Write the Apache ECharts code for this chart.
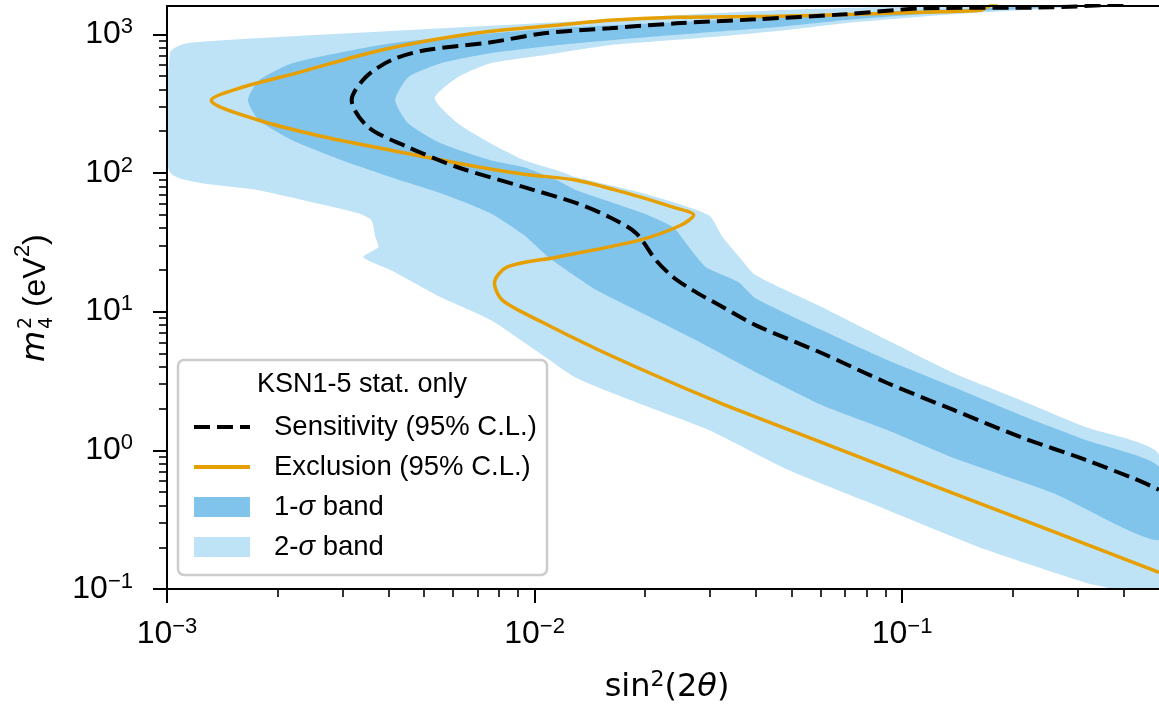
<!DOCTYPE html>
<html><head><meta charset="utf-8">
<script src="https://cdn.jsdelivr.net/npm/echarts@6/dist/echarts.min.js"></script>
<style>html,body{margin:0;padding:0;background:#fff;}#c{width:1159px;height:708px;}</style>
</head><body><div id="c"></div>
<script>
// ---------- tick values ----------
const xMajorTicks = [0.001, 0.01, 0.1];
const xMinorTicks = [0.002, 0.003, 0.004, 0.005, 0.006, 0.007, 0.008, 0.009,
                     0.02, 0.03, 0.04, 0.05, 0.06, 0.07, 0.08, 0.09,
                     0.2, 0.3, 0.4];
const yMajorTicks = [0.1, 1, 10, 100, 1000];
const yMinorTicks = [0.2, 0.3, 0.4, 0.5, 0.6, 0.7, 0.8, 0.9,
                     2, 3, 4, 5, 6, 7, 8, 9,
                     20, 30, 40, 50, 60, 70, 80, 90,
                     200, 300, 400, 500, 600, 700, 800, 900];

// ---------- series values [sin^2(2theta), m4^2] ----------
const sensitivity = [
  [0.40, 1650], [0.257, 1565], [0.1146, 1539], [0.0697, 1393], [0.0399, 1282],
  [0.0243, 1200], [0.0160, 1105], [0.0106, 1017], [0.00759, 875], [0.00503, 767],
  [0.00407, 650], [0.00347, 490], [0.00318, 335], [0.00353, 214], [0.00453, 153.5],
  [0.00618, 110], [0.00937, 79], [0.0130, 60.6], [0.0160, 48], [0.0189, 36.8],
  [0.0214, 23.5], [0.0238, 17.8], [0.0269, 14.3], [0.0325, 10.8], [0.0399, 8.0],
  [0.0604, 5.03], [0.0911, 3.06], [0.138, 1.955], [0.2096, 1.249], [0.3157, 0.853],
  [0.4308, 0.62], [0.5, 0.52]
];
const exclusion = [
  [0.1885, 1758], [0.1696, 1565], [0.1633, 1489], [0.1125, 1441], [0.0742, 1393],
  [0.0451, 1348], [0.0243, 1326], [0.0160, 1262], [0.0115, 1161], [0.00759, 1051],
  [0.00503, 890], [0.00353, 730], [0.00229, 532], [0.00157, 408], [0.00132, 335],
  [0.00178, 240], [0.0027, 181], [0.00407, 146], [0.00618, 117.7], [0.00937, 98],
  [0.0130, 88.7], [0.01745, 72.7], [0.0238, 56.7], [0.0271, 49.7], [0.0250, 42],
  [0.0193, 32.8], [0.0115, 24.7], [0.00843, 21], [0.00778, 16.1], [0.00817, 12.1],
  [0.01047, 8.42], [0.01475, 5.38], [0.0214, 3.45], [0.0311, 2.26], [0.0399, 1.74],
  [0.0604, 1.14], [0.0911, 0.748], [0.138, 0.490], [0.2572, 0.260], [0.5, 0.132]
];
const band1 = [
  [0.5, 0.226], [0.2572, 0.493], [0.138, 0.882], [0.0911, 1.40], [0.0604, 2.12],
  [0.0399, 3.67], [0.02745, 6.24], [0.0201, 9.45], [0.01475, 14.3], [0.0110, 24.3],
  [0.00937, 35.6], [0.00759, 51.3], [0.00556, 71.5], [0.00407, 93.3], [0.00299, 123.7],
  [0.00219, 172.3], [0.00178, 240], [0.00166, 335], [0.00178, 466], [0.00219, 618],
  [0.00299, 742], [0.00407, 861], [0.00618, 967], [0.0115, 1105], [0.0243, 1220],
  [0.0451, 1326], [0.084, 1441], [0.138, 1514], [0.257, 1618], [0.5, 1900],
  [0.33, 1672], [0.257, 1565], [0.138, 1441], [0.0742, 1283], [0.0451, 1123],
  [0.0298, 1034], [0.0160, 905], [0.0115, 833], [0.00759, 730], [0.00556, 618],
  [0.00453, 490], [0.00418, 335], [0.00453, 228.5], [0.00556, 164], [0.00759, 123.7],
  [0.00937, 110], [0.0115, 88.7], [0.0130, 75.2], [0.01975, 51.3], [0.0238, 40.7],
  [0.0263, 29.2], [0.0292, 21], [0.0359, 16.3], [0.0399, 12.5], [0.0604, 7.37],
  [0.0911, 4.48], [0.138, 2.86], [0.2096, 1.80], [0.3157, 1.188], [0.5, 0.76]
];
const band2 = [
  [0.00102, 101], [0.00102, 742], [0.00113, 861], [0.00219, 967], [0.0050, 1086],
  [0.0115, 1220], [0.0243, 1371], [0.0451, 1489], [0.084, 1565], [0.177, 1644],
  [0.5, 2075], [0.3157, 1618], [0.257, 1539], [0.138, 1393], [0.0742, 1220],
  [0.0451, 1051], [0.0298, 951], [0.0160, 833], [0.0106, 706], [0.00759, 618],
  [0.00618, 490], [0.00535, 346], [0.00618, 228.5], [0.00759, 164], [0.00937, 123.7],
  [0.0115, 104.8], [0.0130, 93.3], [0.01975, 71.5], [0.02976, 49.7], [0.03247, 34.5],
  [0.0363, 24.3], [0.0399, 18.35], [0.0604, 10.8], [0.0911, 6.24], [0.138, 3.61],
  [0.2096, 2.31], [0.3157, 1.47], [0.5, 0.93], [0.5, 0.075], [0.3734, 0.1003],
  [0.3157, 0.111], [0.1696, 0.1916], [0.0911, 0.372], [0.0489, 0.723], [0.0298, 1.40],
  [0.01975, 2.12], [0.0130, 3.32], [0.0106, 4.79], [0.00759, 8.70], [0.00556, 12.7],
  [0.00407, 19.9], [0.00342, 24.7], [0.00376, 29.2], [0.00369, 34.5], [0.0036, 45.7],
  [0.00332, 51.3], [0.00178, 75.2]
];

const legendNames = ['Sensitivity (95% C.L.)', 'Exclusion (95% C.L.)', '1-σ band', '2-σ band'];
const legendTitle = 'KSN1-5 stat. only';

// ---------- styles ----------
const FONT = "'Liberation Sans', Arial, Helvetica, sans-serif";
const MATH = "'DejaVu Sans', sans-serif";
const C_BAND1 = '#80c4ec';
const C_BAND2 = '#bfe3f6';
const C_EXCL = '#e69f00';
const X_MIN = 0.001, X_MAX = 0.5, Y_MIN = 0.1, Y_MAX = 1600;

function powLabel(v) {
  const e = Math.round(Math.log10(v));
  return '{b|10}{s|' + (e < 0 ? '\u2212' + (-e) : e) + '}';
}
const labelRich = {
  b: { fontSize: 32, lineHeight: 37, fontFamily: FONT, color: '#000' },
  s: { fontSize: 22, lineHeight: 22, verticalAlign: 'top', fontFamily: FONT, color: '#000' }
};

function polygonRenderer(points, color) {
  return function (params, api) {
    if (params.dataIndex !== 0) return null;
    const pts = points.map(p => api.coord(p));
    const cs = params.coordSys;
    return {
      type: 'group',
      clipPath: { type: 'rect', shape: { x: cs.x, y: cs.y, width: cs.width, height: cs.height } },
      children: [{
        type: 'polygon',
        shape: { points: pts, smooth: 0.2 },
        style: { fill: color, stroke: null }
      }]
    };
  };
}

const chart = echarts.init(document.getElementById('c'), null, { renderer: 'canvas' });

const axisCommonX = { type: 'log', logBase: 10, min: X_MIN, max: X_MAX, gridIndex: 0, splitLine: { show: false }, z: 5 };
const axisCommonY = { type: 'log', logBase: 10, min: Y_MIN, max: Y_MAX, gridIndex: 0, splitLine: { show: false }, z: 5 };

const txt = (t, x, y, size, family, style) => ({
  type: 'text', x: x, y: y,
  style: { text: t, fontSize: size, fontFamily: family, fontStyle: style || 'normal', fill: '#000', align: 'left', verticalAlign: 'middle' }
});

const option = {
  animation: false,
  backgroundColor: '#fff',
  grid: { left: 167, top: 6, right: -8, bottom: 119, containLabel: false },
  xAxis: [
    Object.assign({}, axisCommonX, {
      position: 'bottom',
      axisLine: { show: true, lineStyle: { color: '#000', width: 2 } },
      axisTick: { show: true, customValues: xMajorTicks, length: 14, lineStyle: { color: '#000', width: 2 } },
      axisLabel: { show: true, customValues: xMajorTicks, margin: 27, formatter: powLabel, rich: labelRich }
    }),
    Object.assign({}, axisCommonX, {
      position: 'bottom',
      axisLine: { show: false },
      axisTick: { show: true, customValues: xMinorTicks, length: 8, lineStyle: { color: '#000', width: 1.6 } },
      axisLabel: { show: false }
    }),
    Object.assign({}, axisCommonX, {
      position: 'top',
      axisLine: { show: true, lineStyle: { color: '#000', width: 2 } },
      axisTick: { show: false },
      axisLabel: { show: false }
    })
  ],
  yAxis: [
    Object.assign({}, axisCommonY, {
      position: 'left',
      axisLine: { show: true, lineStyle: { color: '#000', width: 2 } },
      axisTick: { show: true, customValues: yMajorTicks, length: 14, lineStyle: { color: '#000', width: 2 } },
      axisLabel: { show: true, customValues: yMajorTicks, margin: 34, formatter: powLabel, rich: labelRich }
    }),
    Object.assign({}, axisCommonY, {
      position: 'left',
      axisLine: { show: false },
      axisTick: { show: true, customValues: yMinorTicks, length: 8, lineStyle: { color: '#000', width: 1.6 } },
      axisLabel: { show: false }
    })
  ],
  legend: {
    show: true,
    orient: 'vertical',
    left: 192,
    top: 412,
    padding: 0,
    itemWidth: 56,
    itemHeight: 20,
    itemGap: 10,
    selectedMode: false,
    z: 8,
    data: [
      { name: legendNames[0], itemStyle: { opacity: 0 }, lineStyle: { width: 4 } },
      { name: legendNames[1], itemStyle: { opacity: 0 }, lineStyle: { width: 4 } },
      { name: legendNames[2], icon: 'rect' },
      { name: legendNames[3], icon: 'rect' }
    ],
    formatter: function (name) { return '{sp|}' + name.replace('σ', '{it|σ}'); },
    textStyle: {
      fontSize: 27.5, lineHeight: 30, fontFamily: FONT, color: '#000',
      rich: {
        sp: { width: 19, lineHeight: 30 },
        it: { fontStyle: 'italic', fontSize: 27.5, lineHeight: 30, fontFamily: FONT, color: '#000' }
      }
    }
  },
  graphic: [
    {
      type: 'rect', z: 7,
      shape: { x: 178, y: 360, width: 369, height: 215, r: 6 },
      style: { fill: 'rgba(255,255,255,0.92)', stroke: '#cccccc', lineWidth: 2.5 }
    },
    {
      type: 'text', z: 8, x: 362, y: 385,
      style: { text: legendTitle, fontSize: 27, fontFamily: FONT, fill: '#000', align: 'center', verticalAlign: 'middle' }
    },
    {
      type: 'text', z: 8, x: 667, y: 688,
      style: {
        text: 'sin{s|2}(2{it|θ})', fontSize: 32, fontFamily: MATH, fill: '#000',
        align: 'center', verticalAlign: 'middle', lineHeight: 38,
        rich: {
          s: { fontSize: 22, lineHeight: 22, verticalAlign: 'top', fontFamily: MATH, fill: '#000' },
          it: { fontStyle: 'italic', fontSize: 32, lineHeight: 38, fontFamily: MATH, fill: '#000' }
        }
      }
    },
    {
      type: 'group', x: 36, y: 298, rotation: Math.PI / 2, z: 8,
      children: [
        txt('m', -64, 0, 32, MATH, 'italic'),
        txt('2', -31, -10, 19, MATH),
        txt('4', -31, 11, 19, MATH),
        txt(' (eV', -18, 0, 32, FONT),
        txt('2', 41, -13, 22, FONT),
        txt(')', 53, 0, 32, FONT)
      ]
    }
  ],
  series: [
    {
      name: legendNames[3], type: 'custom', xAxisIndex: 0, yAxisIndex: 0,
      data: band2, itemStyle: { color: C_BAND2 }, z: 1,
      renderItem: polygonRenderer(band2, C_BAND2)
    },
    {
      name: legendNames[2], type: 'custom', xAxisIndex: 0, yAxisIndex: 0,
      data: band1, itemStyle: { color: C_BAND1 }, z: 1,
      renderItem: polygonRenderer(band1, C_BAND1)
    },
    {
      name: legendNames[1], type: 'line', xAxisIndex: 0, yAxisIndex: 0,
      data: exclusion, symbol: 'none', smooth: 0.3, z: 3,
      itemStyle: { color: C_EXCL },
      lineStyle: { color: C_EXCL, width: 3.5 }
    },
    {
      name: legendNames[0], type: 'line', xAxisIndex: 0, yAxisIndex: 0,
      data: sensitivity, symbol: 'none', smooth: 0.3, z: 4,
      itemStyle: { color: '#000' },
      lineStyle: { color: '#000', width: 4, type: [16, 7] }
    }
  ]
};
chart.setOption(option);
</script>
</body></html>
